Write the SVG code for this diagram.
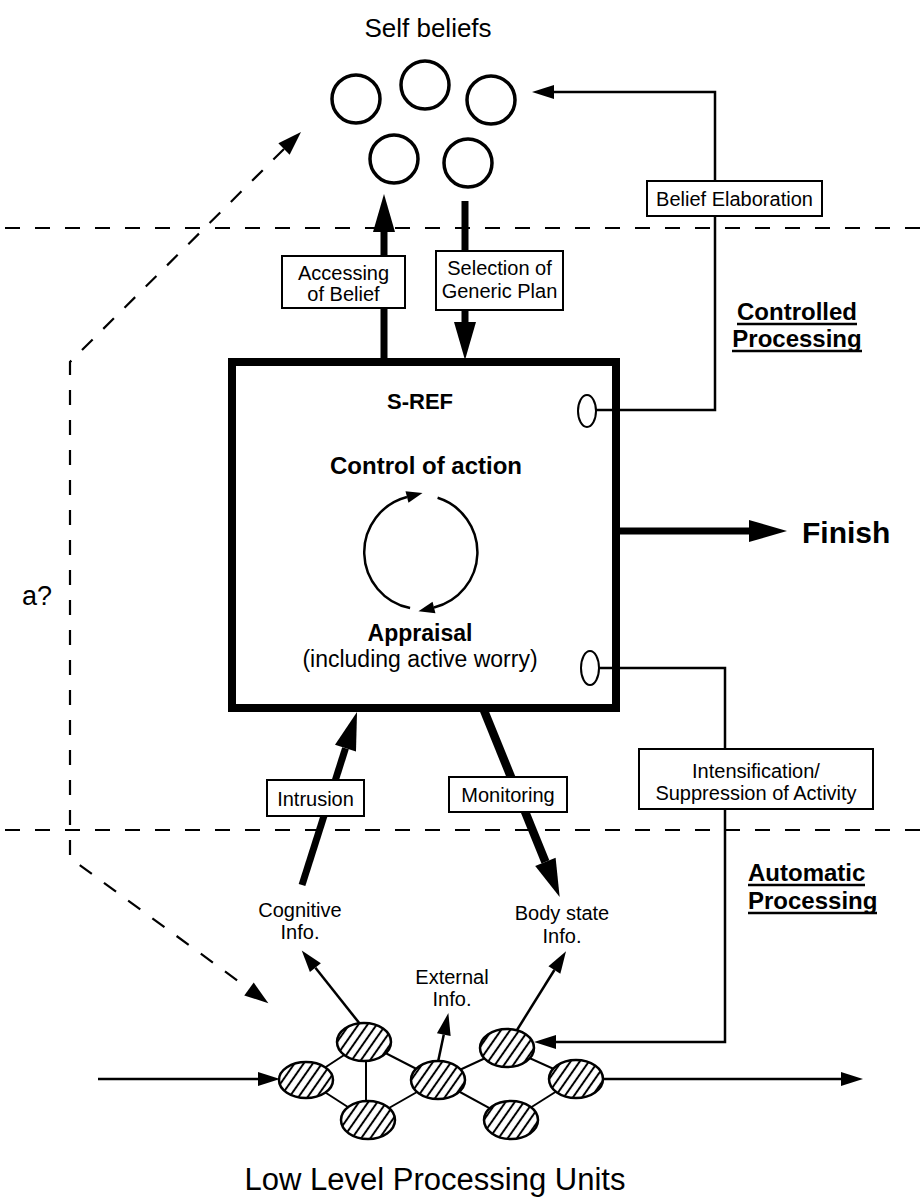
<svg xmlns="http://www.w3.org/2000/svg" width="921" height="1202" viewBox="0 0 921 1202">
  <style>
    text { font-family: "Liberation Sans", Arial, Helvetica, sans-serif; fill: #000; }
    .lbl { font-size: 20px; text-anchor: middle; }
    .bold { font-weight: bold; }
    .thin { fill: none; stroke: #000; stroke-width: 2.5; }
    .edge { stroke: #000; stroke-width: 2; }
    .dash { fill: none; stroke: #000; stroke-width: 2.2; stroke-dasharray: 15 15; }
    .thick { fill: none; stroke: #000; stroke-width: 7; }
    .box { fill: #fff; stroke: #000; stroke-width: 2; }
    .belief { fill: #fff; stroke: #000; stroke-width: 3.5; }
    .unit { fill: url(#hatch); stroke: #000; stroke-width: 2.5; }
    .port { fill: #fff; stroke: #000; stroke-width: 2; }
    .uline { stroke: #000; stroke-width: 2.5; }
  </style>
  <defs>
    <marker id="big" markerUnits="userSpaceOnUse" markerWidth="40" markerHeight="24" refX="0" refY="11" orient="auto" overflow="visible">
      <path d="M0,0 L38,11 L0,22 z" fill="#000"/>
    </marker>
    <marker id="small" markerUnits="userSpaceOnUse" markerWidth="24" markerHeight="16" refX="0" refY="7" orient="auto" overflow="visible">
      <path d="M0,0 L22,7 L0,14 z" fill="#000"/>
    </marker>
    <marker id="dashhead" markerUnits="userSpaceOnUse" markerWidth="26" markerHeight="18" refX="0" refY="8" orient="auto-start-reverse" overflow="visible">
      <path d="M0,0 L24,8 L0,16 z" fill="#000"/>
    </marker>
    <marker id="tiny" markerUnits="userSpaceOnUse" markerWidth="18" markerHeight="14" refX="0" refY="6" orient="auto" overflow="visible">
      <path d="M0,0 L16,6 L0,12 z" fill="#000"/>
    </marker>
    <pattern id="hatch" patternUnits="userSpaceOnUse" width="7.5" height="8" patternTransform="rotate(35)">
      <rect width="7.5" height="8" fill="#fff"/>
      <line x1="3.75" y1="-1" x2="3.75" y2="9" stroke="#000" stroke-width="2"/>
    </pattern>
  </defs>

  <rect width="921" height="1202" fill="#fff"/>

  <!-- level separators -->
  <g id="levels">
    <line class="dash" x1="5" y1="228" x2="921" y2="228"/>
    <line class="dash" x1="5" y1="830" x2="921" y2="830"/>
    <text class="bold" x="797" y="320" font-size="24" text-anchor="middle">Controlled</text>
    <line class="uline" x1="737" y1="324" x2="857" y2="324"/>
    <text class="bold" x="797" y="347" font-size="24" text-anchor="middle">Processing</text>
    <line class="uline" x1="732" y1="351" x2="862" y2="351"/>
    <text class="bold" x="748" y="881" font-size="24">Automatic</text>
    <line class="uline" x1="748" y1="885" x2="865" y2="885"/>
    <text class="bold" x="748" y="909" font-size="24">Processing</text>
    <line class="uline" x1="748" y1="913" x2="877" y2="913"/>
  </g>

  <!-- connectors -->
  <g id="connectors">
    <!-- belief elaboration loop back to the self beliefs -->
    <path class="thin" d="M596,410 L715,410 L715,92 L554,92" marker-end="url(#small)"/>
    <!-- intensification / suppression down to the units -->
    <path class="thin" d="M599,668 L725,668 L725,1042 L556,1042" marker-end="url(#small)"/>
    <!-- accessing of belief -->
    <path class="thick" d="M384,358 L384,232" marker-end="url(#big)"/>
    <!-- selection of generic plan -->
    <path class="thick" d="M465,201 L465,322" marker-end="url(#big)"/>
    <!-- finish -->
    <path class="thick" d="M620,531 L749,531" marker-end="url(#big)"/>
    <!-- intrusion -->
    <path class="thick" d="M302,885 L345.5,748.2" marker-end="url(#big)"/>
    <!-- monitoring -->
    <path class="thick" style="stroke-width:8.5" d="M483,708 L545.4,861.9" marker-end="url(#big)"/>
    <!-- possible direct route a? -->
    <path class="dash" d="M284,149 L70,362 L70,858 L249,989" marker-start="url(#dashhead)" marker-end="url(#dashhead)"/>
    <!-- input and output of the unit network -->
    <path class="thin" d="M98,1079 L258,1079" marker-end="url(#small)"/>
    <path class="thin" d="M603,1079 L841,1079" marker-end="url(#small)"/>
    <!-- info from the units -->
    <path class="thin" d="M360,1024 L315.4,967.7" marker-end="url(#small)"/>
    <path class="thin" d="M438,1062 L443.8,1034.6" marker-end="url(#small)"/>
    <path class="thin" d="M517,1030 L554.4,970" marker-end="url(#small)"/>
    <!-- links between units -->
    <line class="edge" x1="306" y1="1080" x2="364" y2="1042"/>
    <line class="edge" x1="306" y1="1080" x2="368" y2="1120"/>
    <line class="edge" x1="366" y1="1042" x2="366" y2="1120"/>
    <line class="edge" x1="364" y1="1042" x2="438" y2="1080"/>
    <line class="edge" x1="368" y1="1120" x2="438" y2="1080"/>
    <line class="edge" x1="438" y1="1080" x2="507" y2="1048"/>
    <line class="edge" x1="438" y1="1080" x2="511" y2="1120"/>
    <line class="edge" x1="507" y1="1048" x2="576" y2="1079"/>
    <line class="edge" x1="511" y1="1120" x2="576" y2="1079"/>
  </g>

  <!-- self beliefs -->
  <g id="self-beliefs">
    <text x="428" y="37" font-size="26" text-anchor="middle">Self beliefs</text>
    <circle class="belief" cx="356" cy="99" r="24"/>
    <circle class="belief" cx="425" cy="85" r="24"/>
    <circle class="belief" cx="491" cy="100" r="24"/>
    <circle class="belief" cx="394" cy="159" r="24"/>
    <circle class="belief" cx="468" cy="163" r="24"/>
  </g>

  <!-- S-REF executive -->
  <g id="s-ref">
    <rect x="232" y="362" width="384" height="346" fill="none" stroke="#000" stroke-width="8"/>
    <text class="bold" x="420" y="409" font-size="22" text-anchor="middle">S-REF</text>
    <text class="bold" x="426" y="474" font-size="24" text-anchor="middle">Control of action</text>
    <path fill="none" stroke="#000" stroke-width="2.5" d="M410.1,608.1 A57,57 0 0 1 407,497" marker-end="url(#tiny)"/>
    <path fill="none" stroke="#000" stroke-width="2.5" d="M437.6,497.8 A57,57 0 0 1 434,607.5" marker-end="url(#tiny)"/>
    <text class="bold" x="420" y="641" font-size="23" text-anchor="middle">Appraisal</text>
    <text x="420" y="667" font-size="23" text-anchor="middle">(including active worry)</text>
    <ellipse class="port" cx="587" cy="411" rx="9" ry="16"/>
    <ellipse class="port" cx="590" cy="668" rx="9" ry="17"/>
  </g>

  <g id="finish">
    <text class="bold" x="802" y="543" font-size="30">Finish</text>
  </g>

  <!-- connector labels -->
  <g id="label-accessing">
    <rect class="box" x="282" y="256" width="123" height="52"/>
    <text class="lbl" x="343.5" y="280">Accessing</text>
    <text class="lbl" x="343.5" y="301">of Belief</text>
  </g>
  <g id="label-selection">
    <rect class="box" x="436" y="251" width="127" height="59"/>
    <text class="lbl" x="499.5" y="275">Selection of</text>
    <text class="lbl" x="499.5" y="298">Generic Plan</text>
  </g>
  <g id="label-elaboration">
    <rect class="box" x="647" y="181" width="175" height="35"/>
    <text class="lbl" x="734.5" y="206">Belief Elaboration</text>
  </g>
  <g id="label-intrusion">
    <rect class="box" x="267" y="780" width="97" height="36"/>
    <text class="lbl" x="315.5" y="806">Intrusion</text>
  </g>
  <g id="label-monitoring">
    <rect class="box" x="449" y="777" width="118" height="35"/>
    <text class="lbl" x="508" y="802">Monitoring</text>
  </g>
  <g id="label-intensification">
    <rect class="box" x="639" y="749" width="234" height="60"/>
    <text class="lbl" x="756" y="778">Intensification/</text>
    <text class="lbl" x="756" y="800">Suppression of Activity</text>
  </g>

  <g id="route-a">
    <text x="22" y="605" font-size="27">a?</text>
  </g>

  <!-- info sources -->
  <g id="cognitive-info">
    <text class="lbl" x="300" y="917">Cognitive</text>
    <text class="lbl" x="300" y="939">Info.</text>
  </g>
  <g id="body-info">
    <text class="lbl" x="562" y="920">Body state</text>
    <text class="lbl" x="562" y="943">Info.</text>
  </g>
  <g id="external-info">
    <text class="lbl" x="452" y="984">External</text>
    <text class="lbl" x="452" y="1006">Info.</text>
  </g>

  <!-- low level processing units -->
  <g id="units">
    <ellipse class="unit" cx="306" cy="1080" rx="27" ry="18"/>
    <ellipse class="unit" cx="364" cy="1042" rx="27" ry="19"/>
    <ellipse class="unit" cx="368" cy="1120" rx="27" ry="19"/>
    <ellipse class="unit" cx="438" cy="1080" rx="27" ry="19"/>
    <ellipse class="unit" cx="507" cy="1048" rx="27" ry="19"/>
    <ellipse class="unit" cx="576" cy="1079" rx="27" ry="19"/>
    <ellipse class="unit" cx="511" cy="1120" rx="27" ry="19"/>
    <text x="435" y="1190" font-size="31" text-anchor="middle">Low Level Processing Units</text>
  </g>
</svg>
